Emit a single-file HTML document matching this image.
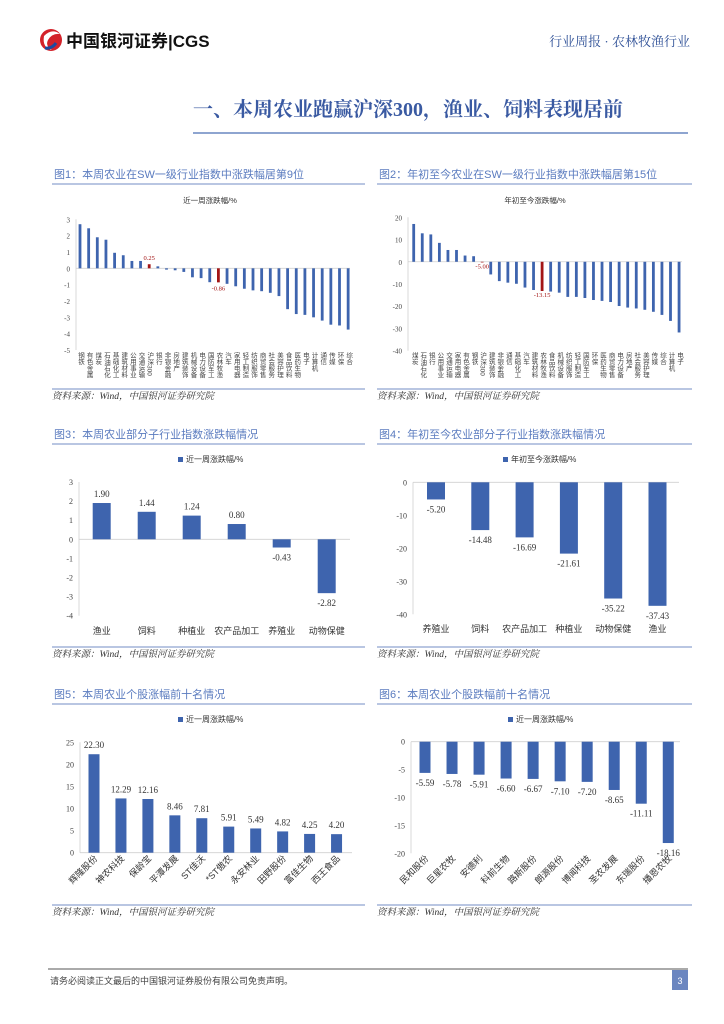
<!DOCTYPE html>
<html><head><meta charset="utf-8">
<style>
html,body{margin:0;padding:0;background:#fff;}
svg{display:block;}
.ser{font-family:"Liberation Serif","Noto Serif CJK SC",serif;}
.san{font-family:"Liberation Sans","Noto Sans CJK SC",sans-serif;}
</style></head>
<body>
<svg id="page" width="724" height="1024" viewBox="0 0 724 1024" xmlns="http://www.w3.org/2000/svg">
  <g>
    <g>
      <circle cx="51" cy="40" r="11" fill="#d3222a"/>
      <path d="M44 36 Q52 28 60 34 Q52 33 48 40 Q45 46 52 50 Q42 48 44 36Z" fill="#fff"/>
      <path d="M56 43 Q52 49 45 48" stroke="#1b4aa0" stroke-width="3" fill="none"/>
    </g>
    <text x="66" y="47" class="san" font-size="17" font-weight="bold" fill="#111">中国银河证券|CGS</text>
    <text x="690" y="46" class="ser" font-size="13" fill="#2d4f96" text-anchor="end">行业周报 · 农林牧渔行业</text>
    <text x="193" y="116" class="ser" font-size="20" font-weight="bold" fill="#3a5aa2">一、本周农业跑赢沪深300，渔业、饲料表现居前</text>
    <line x1="193" y1="133" x2="688" y2="133" stroke="#4a6fb5" stroke-width="1.2"/>
  </g>
  <g id="charts"></g>
  <g>
    <line x1="48" y1="969" x2="688" y2="969" stroke="#555" stroke-width="1"/>
    <text x="50" y="984" class="san" font-size="9" fill="#444">请务必阅读正文最后的中国银河证券股份有限公司免责声明。</text>
    <rect x="672" y="970" width="16" height="20" fill="#6b86c0"/>
    <text x="680" y="984" class="san" font-size="9" fill="#fff" text-anchor="middle">3</text>
  </g>
</svg>
<script>
// ---------- data ----------
const c1Cats = ["钢铁","有色金属","煤炭","石油石化","基础化工","建筑材料","公用事业","交通运输","沪深300","银行","非银金融","房地产","建筑装饰","机械设备","电力设备","国防军工","农林牧渔","汽车","家用电器","轻工制造","纺织服饰","商贸零售","社会服务","美容护理","食品饮料","医药生物","电子","计算机","通信","传媒","环保","综合"];
const c1Vals = [2.7,2.45,1.9,1.75,0.95,0.8,0.45,0.45,0.25,0.12,-0.08,-0.12,-0.22,-0.55,-0.6,-0.85,-0.86,-0.95,-1.1,-1.25,-1.35,-1.4,-1.5,-1.7,-2.5,-2.8,-2.85,-3.0,-3.2,-3.45,-3.5,-3.75];
const c1Ticks = [3,2,1,0,-1,-2,-3,-4,-5];
const c1TickLabels = ["3","2","1","0","-1","-2","-3","-4","-5"];
const c1Red = [8,16];
const c1RedLabels = ["0.25","-0.86"];

const c2Cats = ["煤炭","石油石化","银行","公用事业","交通运输","家用电器","有色金属","钢铁","沪深300","建筑装饰","非银金融","通信","基础化工","汽车","建筑材料","农林牧渔","食品饮料","机械设备","纺织服饰","轻工制造","国防军工","环保","医药生物","商贸零售","电力设备","房地产","社会服务","美容护理","传媒","综合","计算机","电子"];
const c2Vals = [17,12.8,12.3,8.5,5.3,5.3,2.8,2.5,-0.3,-5.7,-8.7,-9.4,-9.9,-11.6,-12.7,-13.15,-13.4,-13.9,-15.8,-15.8,-16.3,-17.2,-17.6,-18.1,-19.9,-20.6,-21,-21.6,-22.5,-23.9,-26.6,-31.8];
const c2Ticks = [20,10,0,-10,-20,-30,-40];
const c2TickLabels = ["20","10","0","-10","-20","-30","-40"];
const c2Red = [8,15];
const c2RedLabels = ["-5.00","-13.15"];

const c3Cats = ["渔业","饲料","种植业","农产品加工","养殖业","动物保健"];
const c3Vals = [1.90,1.44,1.24,0.80,-0.43,-2.82];
const c3Ticks = [3,2,1,0,-1,-2,-3,-4];
const c3TickLabels = ["3","2","1","0","-1","-2","-3","-4"];

const c4Cats = ["养殖业","饲料","农产品加工","种植业","动物保健","渔业"];
const c4Vals = [-5.20,-14.48,-16.69,-21.61,-35.22,-37.43];
const c4Ticks = [0,-10,-20,-30,-40];
const c4TickLabels = ["0","-10","-20","-30","-40"];

const c5Cats = ["辉隆股份","神农科技","保龄宝","平潭发展","ST佳沃","*ST傲农","永安林业","田野股份","富佳生物","西王食品"];
const c5Vals = [22.30,12.29,12.16,8.46,7.81,5.91,5.49,4.82,4.25,4.20];
const c5Ticks = [25,20,15,10,5,0];
const c5TickLabels = ["25","20","15","10","5","0"];

const c6Cats = ["民和股份","巨星农牧","安德利","科前生物","路斯股份","朗源股份","博闻科技","圣农发展","东瑞股份","播恩农牧"];
const c6Vals = [-5.59,-5.78,-5.91,-6.60,-6.67,-7.10,-7.20,-8.65,-11.11,-18.16];
const c6Ticks = [0,-5,-10,-15,-20];
const c6TickLabels = ["0","-5","-10","-15","-20"];

// ---------- drawing ----------
const NS = "http://www.w3.org/2000/svg";
const root = document.getElementById("charts");
const BLUE = "#3e64ae", RED = "#a31515";
function mk(tag, attrs, parent){
  const e = document.createElementNS(NS, tag);
  for (const k in attrs) e.setAttribute(k, attrs[k]);
  parent.appendChild(e);
  return e;
}
function frame(g, x1, x2, yTitle, title, ySrc){
  const t = mk("text",{x:x1+2,y:yTitle,"font-size":11,fill:"#5a7bbf","class":"san"},g);
  t.textContent = title;
  
  
  mk("line",{x1:x1,x2:x2,y1:yTitle+6,y2:yTitle+6,stroke:"#8fa5d0","stroke-width":1.2},g);
  mk("line",{x1:x1,x2:x2,y1:ySrc-9,y2:ySrc-9,stroke:"#8fa5d0","stroke-width":1.2},g);
  const s = mk("text",{x:x1,y:ySrc+1,"font-size":9.5,fill:"#333","font-style":"italic","class":"ser"},g);
  s.textContent = "资料来源：Wind，中国银河证券研究院";
  
  
}
function chart(o, cats, vals, ticks, tickLabels){
  const g = mk("g",{},root);
  
  
  frame(g, o.fx1, o.fx2, o.ty, o.title, o.sy);
  const yMax = ticks[0], yMin = ticks[ticks.length-1];
  const ys = v => o.yTop + (yMax - v) / (yMax - yMin) * (o.yBot - o.yTop);
  const xs = i => o.cx0 + i * o.step;
  // y axis
  mk("line",{x1:o.ax,x2:o.ax,y1:o.yTop,y2:o.yBot,stroke:"#d0d0d0","stroke-width":0.8},g);
  ticks.forEach((t,i)=>{
    const tl = mk("text",{x:o.ax-6,y:ys(t)+3,"font-size":o.tfs,fill:"#444","text-anchor":"end","class":"ser"},g);
    tl.textContent = tickLabels[i];
    
    
  });
  const z = ys(Math.min(Math.max(0,yMin),yMax));
  mk("line",{x1:o.ax,x2:o.xEnd,y1:z,y2:z,stroke:"#d0d0d0","stroke-width":0.8},g);
  vals.forEach((v,i)=>{
    const red = o.red && o.red.indexOf(i) >= 0;
    const y = ys(v);
    const r = mk("rect",{x:xs(i)-o.bw/2,y:Math.min(y,z),width:o.bw,height:Math.max(0.5,Math.abs(y-z)),fill:red?RED:BLUE},g);
    
    
    if (o.values){
      const vl = mk("text",{x:xs(i),y: v>=0 ? y-6 : y+13,"font-size":9,fill:"#333","text-anchor":"middle","class":"ser"},g);
      vl.textContent = v.toFixed(2);
      
      
    }
    if (o.mode === "vertical"){
      const cl = mk("text",{x:xs(i),y:o.labY,"font-size":6.5,fill:"#444","class":"san",style:"writing-mode:vertical-rl"},g);
      cl.textContent = cats[i];
      
      
    } else if (o.mode === "rot"){
      const cl = mk("text",{x:xs(i)+4,y:o.labY,"font-size":9,fill:"#333","text-anchor":"end","class":"san",transform:"rotate(-45 "+(xs(i)+4)+" "+o.labY+")"},g);
      cl.textContent = cats[i];
      
      
    } else {
      const cl = mk("text",{x:xs(i),y:o.labY,"font-size":9,fill:"#333","text-anchor":"middle","class":"san"},g);
      cl.textContent = cats[i];
      
      
    }
  });
  if (o.red && o.redLabels){
    o.red.forEach((idx,k)=>{
      const v = vals[idx], y = ys(v);
      const rl = mk("text",{x:xs(idx)+(o.redDx||0),y: v>=0 ? y-4 : y+o.redDy,"font-size":6.5,fill:RED,"text-anchor":"middle","class":"ser"},g);
      rl.textContent = o.redLabels[k];
      
      
    });
  }
  if (o.inner){
    const it = mk("text",{x:o.innerX,y:o.innerY,"font-size":7.5,fill:"#333","text-anchor":"middle","class":"san"},g);
    it.textContent = o.inner;
    
    
  }
  if (o.legend){
    const lg = mk("g",{},g);
    
    
    mk("rect",{x:o.legX,y:o.legY-4,width:5,height:5,fill:BLUE},lg);
    const lt = mk("text",{x:o.legX+8,y:o.legY+1,"font-size":8,fill:"#333","class":"san"},lg);
    lt.textContent = o.legend;
  }
}

chart({name:"chart-weekly-sw-industry",fx1:52,fx2:365,ty:178,title:"图1：本周农业在SW一级行业指数中涨跌幅居第9位",sy:398,
  ax:76,yTop:219.3,yBot:350,cx0:80,step:8.65,bw:2.8,xEnd:350,tfs:7,mode:"vertical",labY:352,
  red:c1Red,redLabels:c1RedLabels,redDy:8,inner:"近一周涨跌幅/%",innerX:210,innerY:203}, c1Cats,c1Vals,c1Ticks,c1TickLabels);
chart({name:"chart-ytd-sw-industry",fx1:377,fx2:692,ty:178,title:"图2：年初至今农业在SW一级行业指数中涨跌幅居第15位",sy:398,
  ax:408,yTop:217.3,yBot:350.7,cx0:413.7,step:8.56,bw:2.8,xEnd:682,tfs:7,mode:"vertical",labY:352,
  red:c2Red,redLabels:c2RedLabels,redDy:6,redDx:0,inner:"年初至今涨跌幅/%",innerX:535,innerY:203}, c2Cats,c2Vals,c2Ticks,c2TickLabels);
chart({name:"chart-weekly-sub-industry",fx1:52,fx2:365,ty:438,title:"图3：本周农业部分子行业指数涨跌幅情况",sy:656,
  ax:79,yTop:482,yBot:615.7,cx0:101.7,step:45,bw:18,xEnd:350,tfs:8,mode:"flat",labY:634,values:true,
  legend:"近一周涨跌幅/%",legX:178,legY:461}, c3Cats,c3Vals,c3Ticks,c3TickLabels);
chart({name:"chart-ytd-sub-industry",fx1:377,fx2:692,ty:438,title:"图4：年初至今农业部分子行业指数涨跌幅情况",sy:656,
  ax:413,yTop:482.3,yBot:614.3,cx0:436,step:44.3,bw:18,xEnd:679,tfs:8,mode:"flat",labY:632,values:true,
  legend:"年初至今涨跌幅/%",legX:503,legY:461}, c4Cats,c4Vals,c4Ticks,c4TickLabels);
chart({name:"chart-top10-gainers",fx1:52,fx2:365,ty:698,title:"图5：本周农业个股涨幅前十名情况",sy:914,
  ax:80,yTop:742.3,yBot:852.7,cx0:94,step:26.95,bw:11,xEnd:352,tfs:8,mode:"rot",labY:859,values:true,
  legend:"近一周涨跌幅/%",legX:178,legY:721}, c5Cats,c5Vals,c5Ticks,c5TickLabels);
chart({name:"chart-top10-losers",fx1:377,fx2:692,ty:698,title:"图6：本周农业个股跌幅前十名情况",sy:914,
  ax:411,yTop:741.7,yBot:853.3,cx0:425,step:27.03,bw:11,xEnd:680,tfs:8,mode:"rot",labY:859,values:true,
  legend:"近一周涨跌幅/%",legX:508,legY:721}, c6Cats,c6Vals,c6Ticks,c6TickLabels);
</script>
</body></html>
